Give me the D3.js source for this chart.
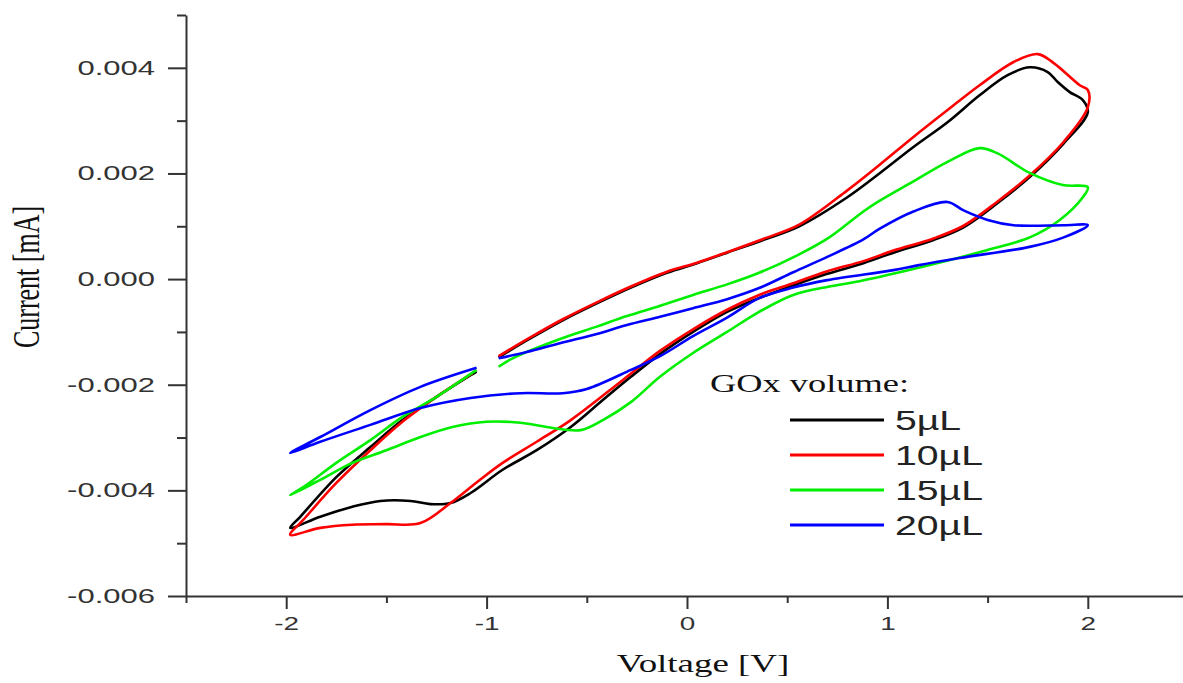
<!DOCTYPE html>
<html>
<head>
<meta charset="utf-8">
<script src="https://cdn.jsdelivr.net/npm/d3@7"></script>
<style>
  body { margin: 0; background: #fff; }
  svg { display: block; }
</style>
</head>
<body>
<div id="chart"></div>
<script>
// Series labels and colours
const volumes = ["5µL", "10µL", "15µL", "20µL"];
const colors = ["#000000", "#ff0000", "#00ee00", "#0000ff"];

// Axis ticks
const xTicks = [-2, -1, 0, 1, 2];
const xMinor = [-2.5, -1.5, -0.5, 0.5, 1.5, 2.5];
const yTicks = [-0.006, -0.004, -0.002, 0.000, 0.002, 0.004];
const yMinor = [-0.005, -0.003, -0.001, 0.001, 0.003, 0.005];

// 5 uL (black) - voltage [V] and current [mA], one full loop
const v5 = [-0.94, -0.78, -0.62, -0.45, -0.28, -0.10, 0.05, 0.20, 0.38, 0.56, 0.80, 0.96, 1.13, 1.30, 1.46, 1.60, 1.71, 1.80, 1.85, 1.91, 1.975, 2.00,
  1.88, 1.71, 1.55, 1.38, 1.23, 1.03, 0.88, 0.70, 0.53, 0.36, 0.20, 0.03, -0.135, -0.28, -0.42, -0.58, -0.75, -0.92, -1.08, -1.18, -1.28, -1.38, -1.53, -1.67, -1.83, -1.98,
  -1.93, -1.75, -1.58, -1.42, -1.25, -1.08, -1.05];
const i5 = [-0.00148, -0.00112, -0.00078, -0.00046, -0.00016, 0.00012, 0.00030, 0.00050, 0.00074, 0.00100, 0.00155, 0.00200, 0.00250, 0.00297, 0.00348, 0.00386, 0.00401, 0.00392, 0.00373, 0.00354, 0.00339, 0.00316,
  0.00257, 0.00193, 0.00144, 0.00098, 0.00074, 0.00050, 0.00030, 0.00010, -0.00012, -0.00036, -0.00062, -0.00100, -0.00142, -0.00185, -0.00229, -0.00280, -0.00324, -0.00361, -0.00405, -0.00424, -0.00426, -0.00420, -0.00420, -0.00431, -0.00450, -0.00471,
  -0.00450, -0.00375, -0.00318, -0.00267, -0.00223, -0.00182, -0.00175];

// 10 uL (red)
const v10 = [-0.94, -0.78, -0.62, -0.45, -0.28, -0.10, 0.05, 0.20, 0.38, 0.56, 0.80, 0.96, 1.13, 1.30, 1.46, 1.63, 1.75, 1.83, 1.96, 2.00, 2.00,
  1.88, 1.71, 1.55, 1.38, 1.23, 1.03, 0.88, 0.70, 0.53, 0.36, 0.20, 0.03, -0.135, -0.32, -0.58, -0.75, -0.92, -1.05, -1.18, -1.33, -1.50, -1.67, -1.83, -1.98,
  -1.915, -1.75, -1.58, -1.42, -1.25, -1.07];
const i10 = [-0.00146, -0.00110, -0.00076, -0.00044, -0.00014, 0.00014, 0.00031, 0.00051, 0.00076, 0.00103, 0.00168, 0.00216, 0.00269, 0.00320, 0.00367, 0.00411, 0.00426, 0.00409, 0.00367, 0.00358, 0.00325,
  0.00260, 0.00196, 0.00147, 0.00101, 0.00077, 0.00054, 0.00034, 0.00015, -0.00008, -0.00030, -0.00058, -0.00095, -0.00136, -0.00191, -0.00267, -0.00308, -0.00348, -0.00385, -0.00424, -0.00462, -0.00464, -0.00465, -0.00471, -0.00484,
  -0.00456, -0.00386, -0.00324, -0.00270, -0.00223, -0.00178];

// 15 uL (green)
const v15 = [-0.94, -0.87, -0.63, -0.45, -0.30, -0.13, 0.03, 0.20, 0.36, 0.55, 0.71, 0.88, 0.96, 1.13, 1.30, 1.46, 1.55, 1.71, 1.875, 2.00, 1.975,
  1.86, 1.71, 1.50, 1.15, 0.86, 0.71, 0.53, 0.36, 0.20, 0.03, -0.135, -0.28, -0.42, -0.53, -0.67, -0.83, -1.00, -1.17, -1.33, -1.50, -1.67, -1.83, -1.98,
  -1.915, -1.75, -1.58, -1.42, -1.25, -1.05];
const i15 = [-0.00166, -0.00150, -0.00113, -0.00090, -0.00070, -0.00050, -0.00030, -0.00010, 0.00012, 0.00045, 0.00079, 0.00128, 0.00148, 0.00185, 0.00222, 0.00248, 0.00238, 0.00201, 0.00178, 0.00174, 0.00155,
  0.00112, 0.00079, 0.00055, 0.00021, -0.00004, -0.00014, -0.00030, -0.00062, -0.00100, -0.00140, -0.00185, -0.00233, -0.00267, -0.00286, -0.00282, -0.00272, -0.00270, -0.00280, -0.00299, -0.00324, -0.00348, -0.00380, -0.00409,
  -0.00394, -0.00348, -0.00305, -0.00261, -0.00223, -0.00172];

// 20 uL (blue)
const v20 = [-0.94, -0.80, -0.63, -0.45, -0.30, -0.13, 0.03, 0.20, 0.36, 0.53, 0.70, 0.88, 0.96, 1.13, 1.30, 1.38, 1.50, 1.63, 1.88, 2.00, 1.88,
  1.71, 1.36, 1.15, 1.03, 0.70, 0.53, 0.36, 0.20, 0.03, -0.13, -0.28, -0.50, -0.62, -0.83, -1.08, -1.33, -1.58, -1.83, -1.98,
  -1.83, -1.58, -1.33, -1.05];
const i20 = [-0.00150, -0.00138, -0.00121, -0.00104, -0.00087, -0.00071, -0.00055, -0.00038, -0.00017, 0.00013, 0.00042, 0.00075, 0.00095, 0.00128, 0.00146, 0.00130, 0.00112, 0.00102, 0.00102, 0.00102, 0.00079,
  0.00061, 0.00040, 0.00026, 0.00017, -0.00002, -0.00016, -0.00036, -0.00073, -0.00108, -0.00145, -0.00172, -0.00208, -0.00216, -0.00216, -0.00225, -0.00244, -0.00276, -0.00308, -0.00329,
  -0.00299, -0.00248, -0.00204, -0.00168];

const seriesV = [v5, v10, v15, v20];
const seriesI = [i5, i10, i15, i20];

const width = 1183, height = 683;

const svg = d3.select("#chart").append("svg")
  .attr("width", width)
  .attr("height", height);

const x = d3.scaleLinear().domain([-2.5, 2.5]).range([186, 1188]);
const y = d3.scaleLinear().domain([-0.006, 0.005]).range([596, 15]);

// Stretch text sideways around its anchor point (the source picture is stretched)
function stretch(sel, k) {
  sel.each(function () {
    const t = d3.select(this);
    const tx = +t.attr("x") || 0, ty = +t.attr("y") || 0;
    t.attr("x", 0).attr("y", 0).attr("transform", `translate(${tx},${ty}) scale(${k},1)`);
  });
}

// Curves
const line = d3.line()
  .x(d => x(d[0]))
  .y(d => y(d[1]))
  .curve(d3.curveCatmullRom.alpha(0.5));

seriesV.forEach((vs, k) => {
  const pts = vs.map((v, j) => [v, seriesI[k][j]]);
  svg.append("path")
    .datum(pts)
    .attr("d", line)
    .attr("fill", "none")
    .attr("stroke", colors[k])
    .attr("stroke-width", 2.6)
    .attr("stroke-linejoin", "round");
});

// Minor ticks first, then major axes on top
svg.append("g")
  .attr("transform", `translate(0,${y(-0.006)})`)
  .call(d3.axisBottom(x).tickValues(xMinor).tickSize(7).tickFormat(""))
  .call(g => g.select(".domain").remove());

svg.append("g")
  .attr("transform", `translate(${x(-2.5)},0)`)
  .call(d3.axisLeft(y).tickValues(yMinor).tickSize(9).tickFormat(""))
  .call(g => g.select(".domain").remove());

const xAxis = svg.append("g")
  .attr("transform", `translate(0,${y(-0.006)})`)
  .call(d3.axisBottom(x).tickValues(xTicks).tickSize(13).tickSizeOuter(0).tickPadding(8).tickFormat(d => String(d)));

const yAxis = svg.append("g")
  .attr("transform", `translate(${x(-2.5)},0)`)
  .call(d3.axisLeft(y).tickValues(yTicks).tickSize(18).tickSizeOuter(0).tickPadding(13).tickFormat(d => d.toFixed(3)));

svg.selectAll(".tick line").attr("stroke", "#333").attr("stroke-width", 2);
[xAxis, yAxis].forEach(g => {
  g.select(".domain").attr("stroke", "#333").attr("stroke-width", 2);
  g.selectAll("text")
    .attr("fill", "#333")
    .style("font-family", "'Liberation Sans', Arial, sans-serif");
});
xAxis.selectAll("text").style("font-size", "18px").call(stretch, 1.55);
yAxis.selectAll("text").style("font-size", "20px").call(stretch, 1.55);

// Axis titles
svg.append("text")
  .attr("transform", `translate(703,672) scale(1.42,1)`)
  .attr("text-anchor", "middle")
  .style("font-family", "'Liberation Serif', 'Times New Roman', serif")
  .style("font-size", "26px")
  .attr("fill", "#111")
  .text("Voltage [V]");

svg.append("text")
  .attr("transform", `translate(39,277) scale(1.42,1) rotate(-90)`)
  .attr("text-anchor", "middle")
  .style("font-family", "'Liberation Serif', 'Times New Roman', serif")
  .style("font-size", "26px")
  .attr("fill", "#111")
  .text("Current [mA]");

// Legend
const legend = svg.append("g");
legend.append("text")
  .attr("transform", `translate(710,392) scale(1.4,1)`)
  .style("font-family", "'Liberation Serif', 'Times New Roman', serif")
  .style("font-size", "26px")
  .attr("fill", "#111")
  .text("GOx volume:");

const legendY = d3.scalePoint().domain(volumes).range([420, 525]);
volumes.forEach((name, k) => {
  legend.append("line")
    .attr("x1", 790).attr("x2", 884)
    .attr("y1", legendY(name)).attr("y2", legendY(name))
    .attr("stroke", colors[k])
    .attr("stroke-width", 3);
  legend.append("text")
    .attr("transform", `translate(895,${legendY(name) + 10}) scale(1.4,1)`)
    .style("font-family", "'Liberation Sans', Arial, sans-serif")
    .style("font-size", "28px")
    .attr("fill", "#222")
    .text(name);
});
</script>
</body>
</html>
